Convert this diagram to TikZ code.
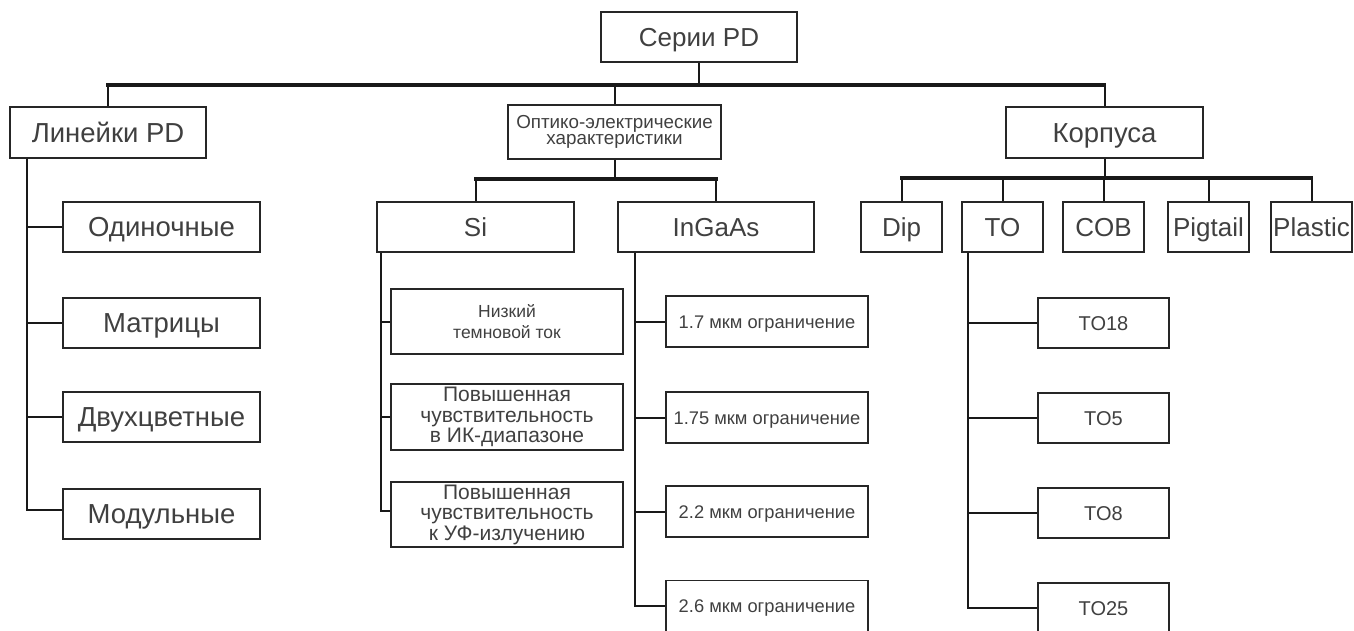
\documentclass[tikz,border=0pt]{standalone}
\usepackage{fontspec}
\setmainfont{Liberation Sans}

\begin{document}
\begin{tikzpicture}[x=1pt,y=1pt]
      \tikzstyle{every node}+=[inner sep=0pt]
      \tikzstyle{box}=[draw=black!85, line width=1.2pt, text=black!75, align=center, minimum height=50]
      \tikzstyle{big}=[font=\fontsize{27.5}{30}\selectfont, text height=19.7, text depth=0]
      \tikzstyle{latin}=[font=\fontsize{26}{30}\selectfont, text height=18.6, text depth=0]
      \tikzstyle{mid}=[font=\fontsize{20}{24}\selectfont, text height=14.3, text depth=0]
      \tikzstyle{cut}=[font=\fontsize{18.3}{22}\selectfont, text height=13.1, text depth=0]
      \tikzstyle{small}=[font=\fontsize{21}{20.5}\selectfont]
      \tikzstyle{link}=[black!90, line width=2pt]
      \tikzstyle{bus}=[black!90, line width=3.6pt, line cap=rect]
      \useasboundingbox (0,0) rectangle (1354,-631);
      \node [box, latin, minimum width=196] (root) at (699,-37) {Серии PD};
      \node [box, big, minimum width=196, minimum height=51] (lines) at (108,-132.5) {Линейки PD};
      \node [box, minimum width=213, minimum height=54, font=\fontsize{18.8}{16.7}\selectfont] (optic) at (614.5,-132) {Оптико-электрические\\характеристики};
      \node [box, big, minimum width=197, minimum height=51] (housing) at (1104.5,-132.5) {Корпуса};
      \coordinate (top bus) at (0,-85);
      \draw [bus] (lines.north |- top bus) -- (housing.north |- top bus);
      \draw [link] (root.south) -- (root.south |- top bus);
      \draw [link] (lines.north) -- (lines.north |- top bus);
      \draw [link] (optic.north) -- (optic.north |- top bus);
      \draw [link] (housing.north) -- (housing.north |- top bus);
      \node [box, big, minimum width=197] (single) at (161.5,-227) {Одиночные};
      \node [box, big, minimum width=197] (matrix) at (161.5,-323) {Матрицы};
      \node [box, big, minimum width=197] (twocolor) at (161.5,-417) {Двухцветные};
      \node [box, big, minimum width=197] (module) at (161.5,-514) {Модульные};
      \draw [link] (lines.south west) ++(18,0) |- (single.west);
      \draw [link] (lines.south west) ++(18,0) |- (matrix.west);
      \draw [link] (lines.south west) ++(18,0) |- (twocolor.west);
      \draw [link] (lines.south west) ++(18,0) |- ([yshift=4]module.west);
      \node [box, latin, minimum width=197] (si) at (475.5,-227) {Si};
      \node [box, latin, minimum width=196] (ingaas) at (716,-227) {InGaAs};
      \coordinate (optic bus) at (0,-179);
      \draw [bus] (si.north |- optic bus) -- (ingaas.north |- optic bus);
      \draw [link] (optic.south) -- (optic.south |- optic bus);
      \draw [link] (si.north) -- (si.north |- optic bus);
      \draw [link] (ingaas.north) -- (ingaas.north |- optic bus);
      \node [box, minimum width=232, minimum height=65, font=\fontsize{17.5}{21.7}\selectfont] (lowdark) at (507,-321.5) {Низкий\\темновой ток};
      \node [box, small, minimum width=232, minimum height=66] (irsens) at (507,-417) {Повышенная\\чувствительность\\в ИК-диапазоне};
      \node [box, small, minimum width=232, minimum height=65] (uvsens) at (507,-514.5) {Повышенная\\чувствительность\\к УФ-излучению};
      \draw [link] (si.south west) ++(5,0) |- (lowdark.west);
      \draw [link] (si.south west) ++(5,0) |- (irsens.west);
      \draw [link] (si.south west) ++(5,0) |- ([yshift=4]uvsens.west);
      \node [box, cut, minimum width=202, minimum height=51] (cut17) at (767,-321.5) {1.7 мкм ограничение};
      \node [box, cut, minimum width=202, minimum height=51] (cut175) at (767,-417.5) {1.75 мкм ограничение};
      \node [box, cut, minimum width=202, minimum height=51] (cut22) at (767,-511.5) {2.2 мкм ограничение};
      \node [box, cut, minimum width=202, minimum height=51] (cut26) at (767,-606) {2.6 мкм ограничение};
      \draw [link] (ingaas.south west) ++(18,0) |- (cut17.west);
      \draw [link] (ingaas.south west) ++(18,0) |- (cut175.west);
      \draw [link] (ingaas.south west) ++(18,0) |- (cut22.west);
      \draw [link] (ingaas.south west) ++(18,0) |- (cut26.west);
      \node [box, latin, minimum width=81] (dip) at (901.5,-227) {Dip};
      \node [box, latin, minimum width=81] (to) at (1002.5,-227) {TO};
      \node [box, latin, minimum width=81] (cob) at (1103.5,-227) {COB};
      \node [box, latin, minimum width=81] (pigtail) at (1208.5,-227) {Pigtail};
      \node [box, latin, minimum width=81] (plastic) at (1311.5,-227) {Plastic};
      \coordinate (housing bus) at (0,-178);
      \draw [bus] (dip.north |- housing bus) -- (plastic.north |- housing bus);
      \draw [link] (housing.south) -- (housing.south |- housing bus);
      \foreach \n in {dip, to, cob, pigtail, plastic}
        \draw [link] (\n.north) -- (\n.north |- housing bus);
      \node [box, mid, minimum width=131] (to18) at (1103.5,-323) {TO18};
      \node [box, mid, minimum width=131] (to5) at (1103.5,-418) {TO5};
      \node [box, mid, minimum width=131] (to8) at (1103.5,-513) {TO8};
      \node [box, mid, minimum width=131] (to25) at (1103.5,-608) {TO25};
      \foreach \n in {to18, to5, to8, to25}
        \draw [link] (to.south west) ++(7,0) |- (\n.west);
\end{tikzpicture}
\end{document}
